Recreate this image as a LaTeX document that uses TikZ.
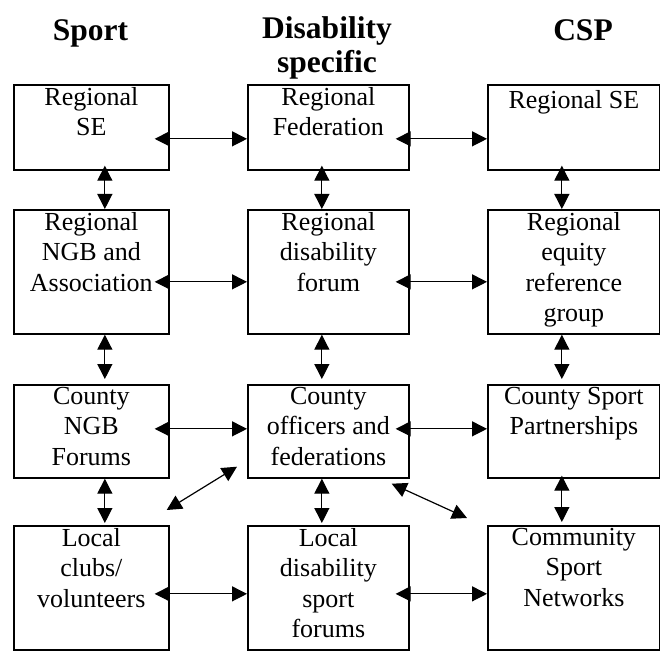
\documentclass[tikz,border=0pt]{standalone}
\usepackage{fontspec}
\setmainfont{Liberation Serif}
\usetikzlibrary{arrows.meta,calc}
\begin{document}
\begin{tikzpicture}[x=1pt,y=-1pt,
  box/.style={draw, line width=1.7pt, anchor=north west, inner sep=0pt},
  txt/.style={anchor=north, align=center, inner sep=0pt, font=\fontsize{26}{30.5}\selectfont, execute at begin node=\strut},
  hdr/.style={anchor=north, align=center, inner sep=0pt, font=\fontsize{31.5}{34}\selectfont\bfseries, execute at begin node=\strut},
  arr/.style={{Triangle[length=15pt,width=15pt]}-{Triangle[length=15pt,width=15pt]}, line width=1.2pt}]
\useasboundingbox (0,0) rectangle (660,652);

% headers
\node[hdr] (h1) at (90.5,16.2) {Sport};
\node[hdr] (h2) at (327,16.2) {Disability\\specific};
\node[hdr] (h3) at (583,16.2) {CSP};

% boxes row 1
\node[box, minimum width=155pt, minimum height=85pt] (b11) at (13,84) {};
\node[box, minimum width=161pt, minimum height=85pt] (b12) at (247,84) {};
\node[box, minimum width=172pt, minimum height=85pt] (b13) at (487,84) {};
% row 2
\node[box, minimum width=155pt, minimum height=124pt] (b21) at (13,209) {};
\node[box, minimum width=161pt, minimum height=124pt] (b22) at (247,209) {};
\node[box, minimum width=172pt, minimum height=124pt] (b23) at (487,209) {};
% row 3
\node[box, minimum width=155pt, minimum height=93pt] (b31) at (13,384) {};
\node[box, minimum width=161pt, minimum height=93pt] (b32) at (247,384) {};
\node[box, minimum width=172pt, minimum height=93pt] (b33) at (487,384) {};
% row 4
\node[box, minimum width=155pt, minimum height=124pt] (b41) at (13,525) {};
\node[box, minimum width=161pt, minimum height=124pt] (b42) at (247,525) {};
\node[box, minimum width=172pt, minimum height=124pt] (b43) at (487,525) {};

% texts
\node[txt] (t11) at ($(b11.north)+(0,3)$) {Regional\\SE};
\node[txt] (t12) at ($(b12.north)+(0,3)$) {Regional\\Federation};
\node[txt] (t13) at ($(b13.north)+(0,3)$) {Regional SE};
\node[txt] (t21) at ($(b21.north)+(0,3)$) {Regional\\NGB and\\Association};
\node[txt] (t22) at ($(b22.north)+(0,3)$) {Regional\\disability\\forum};
\node[txt] (t23) at ($(b23.north)+(0,3)$) {Regional\\equity\\reference\\group};
\node[txt] (t31) at ($(b31.north)+(0,3)$) {County\\NGB\\Forums};
\node[txt] (t32) at ($(b32.north)+(0,3)$) {County\\officers and\\federations};
\node[txt] (t33) at ($(b33.north)+(0,3)$) {County Sport\\Partnerships};
\node[txt] (t41) at ($(b41.north)+(0,3)$) {Local\\clubs/\\volunteers};
\node[txt] (t42) at ($(b42.north)+(0,3)$) {Local\\disability\\sport\\forums};
\node[txt] (t43) at ($(b43.north)+(0,3)$) {Community\\Sport\\Networks};

% horizontal arrows
\draw[arr] ($(b11.east)+(-15,11.5)$) -- ($(b12.west)+(0,11.5)$);
\draw[arr] ($(b12.east)+(-14,11.5)$) -- ($(b13.west)+(0,11.5)$);
\draw[arr] ($(b21.east)+(-15,10)$) -- ($(b22.west)+(0,10)$);
\draw[arr] ($(b22.east)+(-14,10)$) -- ($(b23.west)+(0,10)$);
\draw[arr] ($(b31.east)+(-15,-2.5)$) -- ($(b32.west)+(0,-2.5)$);
\draw[arr] ($(b32.east)+(-14,-2.5)$) -- ($(b33.west)+(0,-2.5)$);
\draw[arr] ($(b41.east)+(-15,6)$) -- ($(b42.west)+(0,6)$);
\draw[arr] ($(b42.east)+(-14,6)$) -- ($(b43.west)+(0,6)$);

% vertical arrows
\draw[arr] ($(b11.south)+(13.5,-5)$) -- ($(b21.north)+(13.5,0)$);
\draw[arr] ($(b12.south)+(-6.5,-5)$) -- ($(b22.north)+(-6.5,0)$);
\draw[arr] ($(b13.south)+(-12,-5)$) -- ($(b23.north)+(-12,0)$);
\draw[arr] ($(b21.south)+(13.5,0)$) -- ($(b31.north)+(13.5,-5)$);
\draw[arr] ($(b22.south)+(-6.5,0)$) -- ($(b32.north)+(-6.5,-5)$);
\draw[arr] ($(b23.south)+(-12,0)$) -- ($(b33.north)+(-12,-5)$);
\draw[arr] ($(b31.south)+(13.5,0)$) -- ($(b41.north)+(13.5,-2)$);
\draw[arr] ($(b32.south)+(-6.5,0)$) -- ($(b42.north)+(-6.5,-2)$);
\draw[arr] ($(b33.south)+(-12,-3)$) -- ($(b43.north)+(-12,-3)$);

% diagonal arrows
\draw[arr] ($(b41.north east)+(-3,-15)$) -- ($(b32.south west)+(-10,-12)$);
\draw[arr] ($(b32.south east)+(-18,5)$) -- ($(b43.north west)+(-20,-7)$);
\end{tikzpicture}
\end{document}
